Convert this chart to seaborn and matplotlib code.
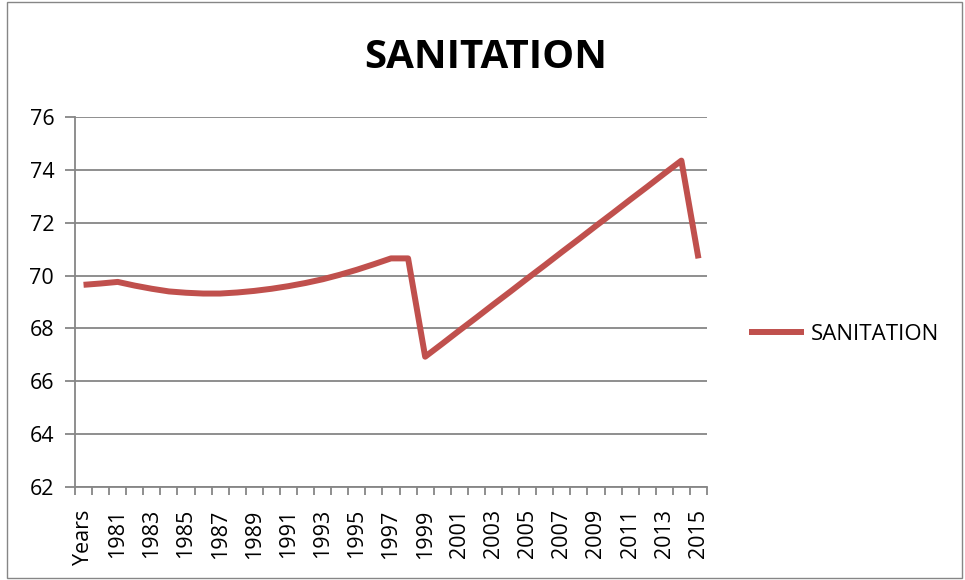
import matplotlib
matplotlib.use("Agg")
import matplotlib.pyplot as plt
from matplotlib.patches import Rectangle
from matplotlib.lines import Line2D
from matplotlib.ticker import FixedLocator, NullFormatter
import seaborn as sns
import pandas as pd

# Sanitation series, one value per category
categories = ["Years"] + [str(y) for y in range(1980, 2016)]
sanitation = [
    69.65, 69.70, 69.76, 69.62, 69.50, 69.40, 69.35, 69.32, 69.32, 69.36,
    69.42, 69.50, 69.60, 69.72, 69.86, 70.03, 70.22, 70.43, 70.65, 70.65,
    66.93, 67.42, 67.92, 68.41, 68.91, 69.40, 69.90, 70.39, 70.89, 71.38,
    71.88, 72.37, 72.87, 73.36, 73.86, 74.35, 70.65,
]
y_ticks = [62, 64, 66, 68, 70, 72, 74, 76]
series_name = "SANITATION"

sns.set_theme(style="white")
plt.rcParams["font.family"] = ["Open Sans", "DejaVu Sans"]
plt.rcParams["text.color"] = "black"
plt.rcParams["xtick.color"] = "black"
plt.rcParams["ytick.color"] = "black"

line_color = "#C0504D"
axis_gray = "#868686"

df = pd.DataFrame({"category": categories, "value": sanitation})

fig = plt.figure(figsize=(9.65, 5.80), dpi=100)
ax = fig.add_axes([75 / 965, 1 - 487 / 580, (707 - 75) / 965, (487 - 117) / 580])

sns.lineplot(data=df, x="category", y="value", sort=False, ax=ax,
             color=line_color, linewidth=4.3, solid_joinstyle="round",
             solid_capstyle="butt", legend=False)

n = len(categories)
ax.set_xlim(-0.5, n - 0.5)
ax.set_ylim(y_ticks[0], y_ticks[-1])

# y axis: gridlines every 2 units
ax.set_yticks(y_ticks)
ax.set_yticklabels([str(v) for v in y_ticks], fontsize=15.5)
ax.yaxis.grid(True, color=axis_gray, linewidth=1.3)
ax.set_axisbelow(True)

# x axis: every other label, tick marks between categories
ax.xaxis.set_major_locator(FixedLocator(list(range(0, n, 2))))
ax.set_xticklabels([categories[i] for i in range(0, n, 2)], rotation=90,
                   fontsize=15.5, va="top", ha="center")
ax.xaxis.set_minor_locator(FixedLocator([i - 0.5 for i in range(n + 1)]))
ax.xaxis.set_minor_formatter(NullFormatter())
ax.tick_params(axis="x", which="major", length=0, pad=16)
ax.tick_params(axis="x", which="minor", length=6, width=1.3, color=axis_gray,
               direction="out", bottom=True)
ax.tick_params(axis="y", which="major", length=7, width=1.3, color=axis_gray,
               labelcolor="black", direction="out", left=True, pad=8)
ax.tick_params(axis="x", labelcolor="black")

for side in ["top", "right"]:
    ax.spines[side].set_visible(False)
for side in ["left", "bottom"]:
    ax.spines[side].set_color(axis_gray)
    ax.spines[side].set_linewidth(1.3)

ax.set_xlabel("")
ax.set_ylabel("")

# title
fig.text(486 / 965, 1 - 58 / 580, series_name, fontsize=29, fontweight="bold",
         ha="center", va="center", color="black")

# legend
handle = Line2D([], [], color=line_color, linewidth=4.3, solid_capstyle="butt")
leg = fig.legend([handle], [series_name], loc="center left",
                 bbox_to_anchor=(740 / 965, 1 - 334 / 580), frameon=False,
                 fontsize=16, handlelength=2.5, handletextpad=0.3,
                 borderaxespad=0)
for t in leg.get_texts():
    t.set_color("black")

# chart border
fig.add_artist(Rectangle((7 / 965, 2 / 580), 955 / 965, 576 / 580,
                         transform=fig.transFigure, fill=False,
                         edgecolor=axis_gray, linewidth=1.0))

fig.savefig("out.png", dpi=100)
